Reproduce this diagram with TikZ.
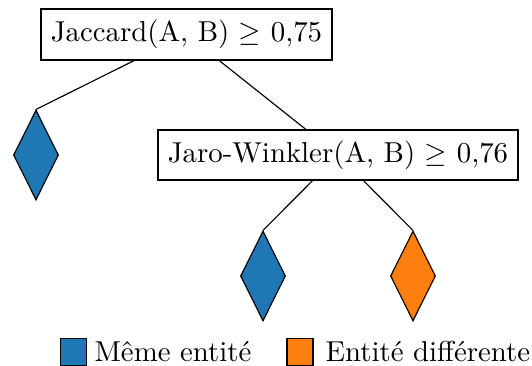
\documentclass[tikz,border=0pt]{standalone}
\usepackage{fontspec}
\usetikzlibrary{shapes.geometric}
\definecolor{mblue}{HTML}{1F77B4}
\definecolor{morange}{HTML}{FF7F0E}
\tikzset{
  testbox/.style={draw, rectangle, fill=white, minimum height=51*0.3472pt},
  leaf/.style={draw, diamond, inner sep=0pt, minimum width=45*0.3472pt, minimum height=90*0.3472pt},
  legsq/.style={draw, rectangle, inner sep=0pt, minimum width=26*0.3472pt, minimum height=27*0.3472pt},
  legtxt/.style={anchor=west, inner sep=0pt},
  edge/.style={draw, line width=0.4pt}
}
\begin{document}
\begin{tikzpicture}[x=0.3472pt, y=-0.3472pt]
\useasboundingbox (0,0) rectangle (532,366);
\node[testbox, minimum width=291*0.3472pt] (root) at (186.5,34.5) {Jaccard(A, B) $\geq$ 0,75};
\node[testbox, minimum width=360*0.3472pt, minimum height=50*0.3472pt] (jw) at (338,155) {Jaro-Winkler(A, B) $\geq$ 0,76};
\node[leaf, fill=mblue] (d1) at (36,155) {};
\node[leaf, fill=mblue] (d2) at (263,276) {};
\node[leaf, fill=morange] (d3) at (413,276) {};
\draw[edge] (root) -- (d1.north);
\draw[edge] (root) -- (jw);
\draw[edge] (jw) -- (d2.north);
\draw[edge] (jw) -- (d3.north);
\node[legsq, fill=mblue] (l1) at (73.5,352) {};
\node[legtxt] (t1) at (94,352) {Même entité};
\node[legsq, fill=morange] (l2) at (300,352) {};
\node[legtxt] (t2) at (325,352) {Entité différente};
\end{tikzpicture}
\end{document}
